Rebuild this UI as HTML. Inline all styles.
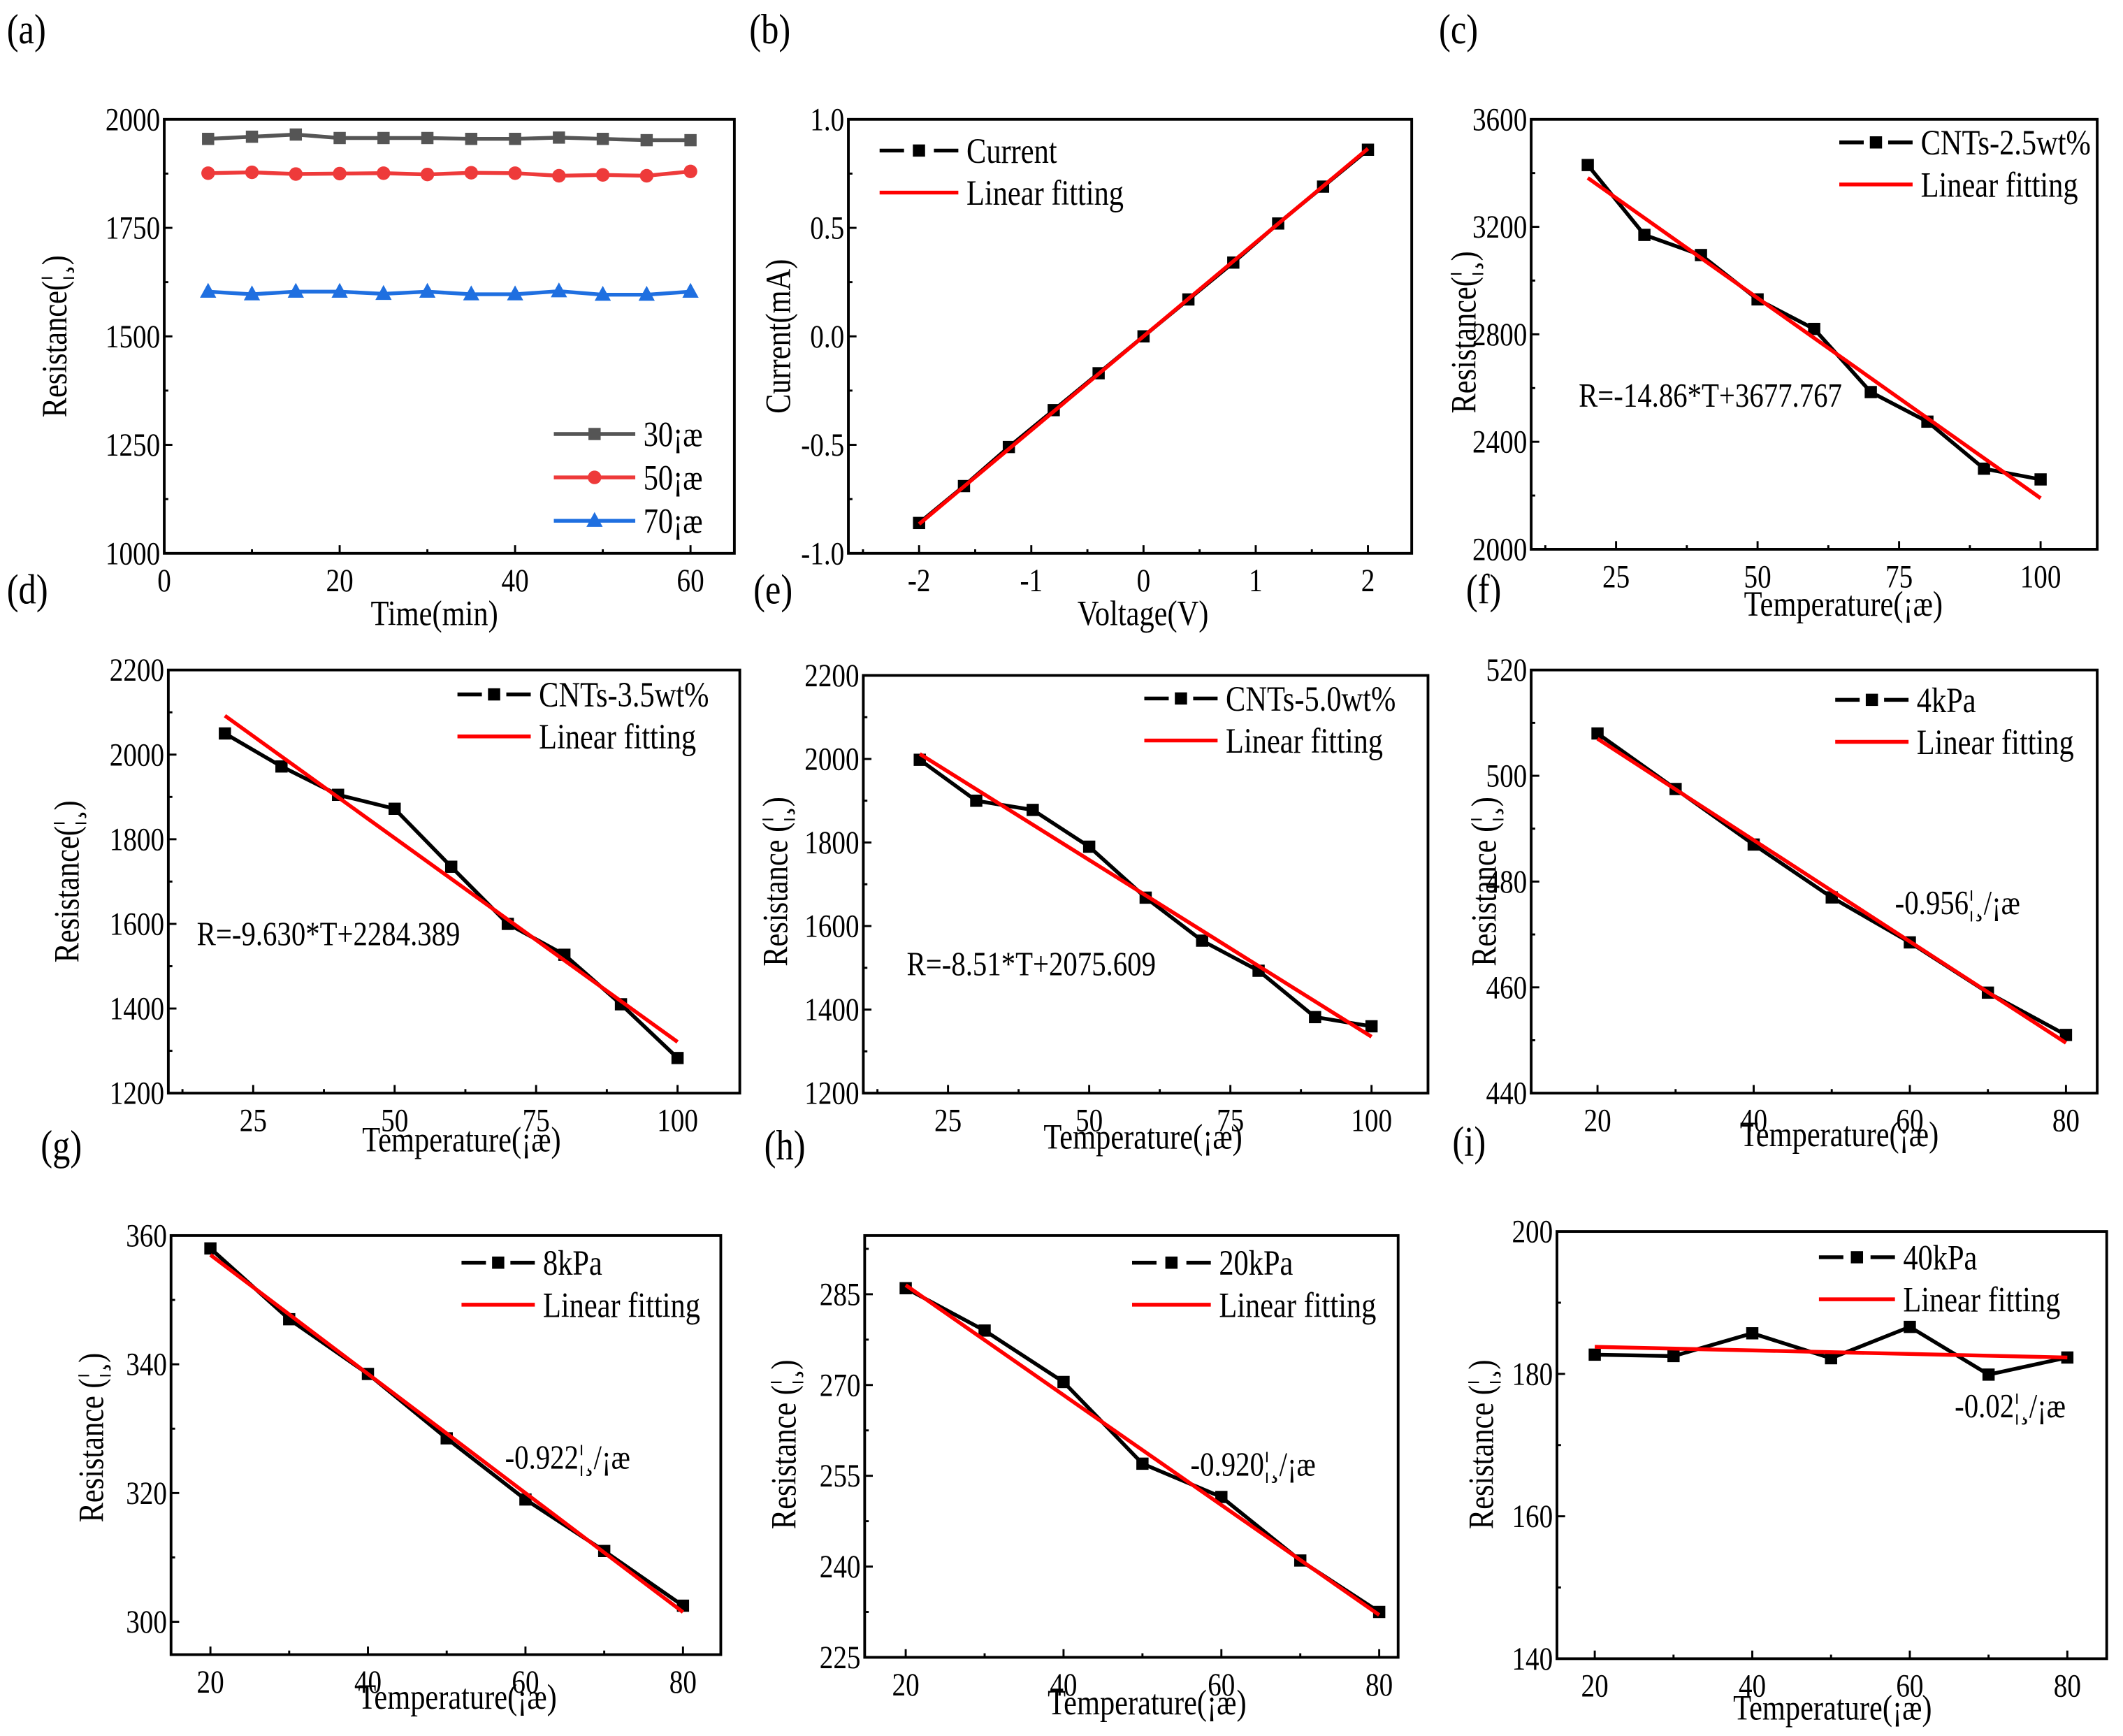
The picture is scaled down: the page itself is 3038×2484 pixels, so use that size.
<!DOCTYPE html>
<html><head><meta charset="utf-8"><style>
html,body{margin:0;padding:0;background:#fff;}
svg{display:block;}
svg text{font-family:"Liberation Serif","Times New Roman","DejaVu Serif",serif;}
</style></head><body>
<svg id="fig" width="3038" height="2484" viewBox="0 0 1564 1280" preserveAspectRatio="none" xmlns="http://www.w3.org/2000/svg"></svg>
<script>
// ---- data ----
const timeMin = [5,10,15,20,25,30,35,40,45,50,55,60];
const r30 = [1955,1960,1965,1957,1957,1957,1955,1955,1958,1955,1952,1952];
const r50 = [1876,1878,1874,1875,1876,1873,1877,1876,1870,1872,1870,1880];
const r70 = [1603,1597,1603,1603,1598,1603,1597,1597,1604,1596,1596,1603];
const voltage = [-2,-1.6,-1.2,-0.8,-0.4,0,0.4,0.8,1.2,1.6,2];
const current = [-0.86,-0.69,-0.51,-0.34,-0.17,0,0.17,0.34,0.52,0.69,0.86];
const fitB = [-0.865,0.865];
const tempC = [20,30,40,50,60,70,80,90,100];
const rC = [3430,3170,3095,2930,2820,2585,2475,2300,2260];
const fitC = [3382,2190];
const rD = [2050,1972,1905,1872,1735,1600,1527,1410,1283];
const fitD = [2092,1321];
const rE = [1998,1900,1878,1790,1668,1565,1493,1382,1360];
const fitE = [2012,1335];
const tempP = [20,30,40,50,60,70,80];
const rF = [508,497.5,487,477,468.5,459,451];
const fitF = [507,449.5];
const rG = [358,347,338.5,328.5,319,311,302.5];
const fitG = [357,301.5];
const rH = [286,279,270.5,257,251.5,241,232.5];
const fitH = [286.5,232];
const rI = [182.7,182.5,185.7,182.2,186.6,179.9,182.3];
const fitI = [183.8,182.3];
const ticksA_x=[0,20,40,60], ticksA_y=[1000,1250,1500,1750,2000];
const ticksB_x=[-2,-1,0,1,2], ticksB_y=[-1.0,-0.5,0.0,0.5,1.0];
const ticksT_x=[25,50,75,100], ticksP_x=[20,40,60,80];

const svg=document.getElementById('fig');
const NS='http://www.w3.org/2000/svg';
const FONT='Liberation Serif, Times New Roman, DejaVu Serif, serif';
const SQ=0.84;
function mk(tag,attrs,parent){const e=document.createElementNS(NS,tag);for(const k in attrs)e.setAttribute(k,attrs[k]);(parent||svg).appendChild(e);return e;}
function txt(s,x,y,size,anchor,parent,rot){
  const t=mk('text',{x:0,y:0,'font-size':size,'font-family':FONT,'text-anchor':anchor||'start',fill:'#000'},parent);
  t.setAttribute('transform','translate('+x+' '+y+')'+(rot?' rotate(-90)':'')+' scale('+SQ+' 1)');
  t.textContent=s;return t;}

function panel(p){
  const g=mk('g',{});
  
  
  const sx=v=>p.x0+(v-p.dx[0])/(p.dx[1]-p.dx[0])*(p.x1-p.x0);
  const sy=v=>p.y1-(v-p.dy[0])/(p.dy[1]-p.dy[0])*(p.y1-p.y0);
  const box=mk('rect',{x:p.x0,y:p.y0,width:p.x1-p.x0,height:p.y1-p.y0,fill:'none',stroke:'#000','stroke-width':2},g);
  
  
  const xstep=p.xt[1]-p.xt[0];
  for(let v=p.xt[0]-xstep/2; v<=p.dx[1]; v+=xstep/2){
    if(v<p.dx[0]) continue;
    const major=Math.abs(((v-p.xt[0])/xstep)-Math.round((v-p.xt[0])/xstep))<1e-6;
    mk('line',{x1:sx(v),x2:sx(v),y1:p.y1,y2:p.y1-(major?6:3),stroke:'#000','stroke-width':1.5},g);
  }
  p.xt.forEach(v=>{const t=txt(p.xfmt?p.xfmt(v):String(v),sx(v),p.y1+28,24,'middle',g);
    
    });
  const ystep=p.yt[1]-p.yt[0];
  for(let v=p.yt[0]; v<=p.dy[1]+1e-9; v+=ystep/2){
    if(v<p.dy[0]-1e-9) continue;
    const major=Math.abs(((v-p.yt[0])/ystep)-Math.round((v-p.yt[0])/ystep))<1e-6;
    mk('line',{x1:p.x0,x2:p.x0+(major?6:3),y1:sy(v),y2:sy(v),stroke:'#000','stroke-width':1.5},g);
  }
  p.yt.forEach(v=>{const t=txt(p.yfmt?p.yfmt(v):String(v),p.x0-3,sy(v)+8,24,'end',g);
    
    });
  p.series.forEach((s,si)=>{
    const pts=s.x.map((xv,i)=>sx(xv)+','+sy(s.y[i])).join(' ');
    const pl=mk('polyline',{points:pts,fill:'none',stroke:s.color,'stroke-width':2.8},g);
    
    
    s.x.forEach((xv,i)=>{
      const m=marker(s.marker,sx(xv),sy(s.y[i]),s.color,g);
      
      
    });
  });
  if(p.fit){
    const fl=mk('line',{x1:sx(p.fitX[0]),y1:sy(p.fit[0]),x2:sx(p.fitX[1]),y2:sy(p.fit[1]),stroke:'#f00','stroke-width':2.8},g);
    
    
  }
  p.legend.forEach((l,i)=>{
    const ly=p.lg[1]+i*p.lg[3];
    const lg=mk('g',{},g);
    
    
    if(l.dash){
      mk('line',{x1:p.lg[0],x2:p.lg[0]+18,y1:ly,y2:ly,stroke:l.color,'stroke-width':2.8},lg);
      mk('line',{x1:p.lg[0]+p.lg[2]-18,x2:p.lg[0]+p.lg[2],y1:ly,y2:ly,stroke:l.color,'stroke-width':2.8},lg);
    } else mk('line',{x1:p.lg[0],x2:p.lg[0]+p.lg[2],y1:ly,y2:ly,stroke:l.color,'stroke-width':2.8},lg);
    if(l.marker) marker(l.marker,p.lg[0]+p.lg[2]/2,ly,l.color,lg);
    txt(l.label,p.lg[0]+p.lg[2]+6,ly+9,26,'start',lg);
  });
  if(p.note){const t=txt(p.note[0],p.note[1],p.note[2],25,'start',g);
    
    }
  const xt=txt(p.xlabel[0],p.xlabel[1],p.xlabel[2],26,'middle',g);
  
  
  const yt=txt(p.ylabel[0],p.ylabel[1],p.ylabel[2],26,'middle',g,true);
  
  
  const pl=txt(p.tag[0],p.tag[1],p.tag[2],31,'start',g);
  
  
}
function marker(type,x,y,c,g){
  if(type==='circle') return mk('circle',{cx:x,cy:y,r:5,fill:c},g);
  if(type==='tri') return mk('polygon',{points:(x)+','+(y-6.5)+' '+(x-6)+','+(y+4.5)+' '+(x+6)+','+(y+4.5),fill:c},g);
  return mk('rect',{x:x-4.5,y:y-4.5,width:9,height:9,fill:c},g);
}
const OHM='Resistance(¦¸)', OHMS='Resistance (¦¸)', TEMP='Temperature(¡æ)';
const LF={label:'Linear fitting',color:'#f00'};
panel({id:'a',x0:121,x1:541,y0:88,y1:408,dx:[0,65],dy:[1000,2000],xt:ticksA_x,yt:ticksA_y,
  series:[{x:timeMin,y:r30,color:'#555',marker:'sq'},{x:timeMin,y:r50,color:'#ee3a3a',marker:'circle'},{x:timeMin,y:r70,color:'#1f6fe0',marker:'tri'}],
  legend:[{label:'30¡æ',color:'#555',marker:'sq'},{label:'50¡æ',color:'#ee3a3a',marker:'circle'},{label:'70¡æ',color:'#1f6fe0',marker:'tri'}],
  lg:[408,320,60,32],xlabel:['Time(min)',320,461],ylabel:[OHM,49,248],tag:['(a)',5,32]});
panel({id:'b',x0:625,x1:1040,y0:88,y1:408,dx:[-2.63,2.39],dy:[-1,1],xt:ticksB_x,yt:ticksB_y,yfmt:v=>v.toFixed(1),
  series:[{x:voltage,y:current,color:'#000',marker:'sq'}],fit:fitB,fitX:[-2,2],
  legend:[{label:'Current',color:'#000',marker:'sq',dash:1},LF],lg:[648,111,58,31],
  xlabel:['Voltage(V)',842,461],ylabel:['Current(mA)',582,248],tag:['(b)',552,32]});
panel({id:'c',x0:1128,x1:1545,y0:88,y1:405,dx:[10,110],dy:[2000,3600],xt:ticksT_x,yt:[2000,2400,2800,3200,3600],
  series:[{x:tempC,y:rC,color:'#000',marker:'sq'}],fit:fitC,fitX:[20,100],
  legend:[{label:'CNTs-2.5wt%',color:'#000',marker:'sq',dash:1},LF],lg:[1355,105,54,31],
  note:['R=-14.86*T+3677.767',1163,300],xlabel:[TEMP,1358,454],ylabel:[OHM,1087,245],tag:['(c)',1060,32]});
panel({id:'d',x0:124,x1:545,y0:494,y1:806,dx:[10,111],dy:[1200,2200],xt:ticksT_x,yt:[1200,1400,1600,1800,2000,2200],
  series:[{x:tempC,y:rD,color:'#000',marker:'sq'}],fit:fitD,fitX:[20,100],
  legend:[{label:'CNTs-3.5wt%',color:'#000',marker:'sq',dash:1},LF],lg:[337,512,54,31],
  note:['R=-9.630*T+2284.389',145,697],xlabel:[TEMP,340,849],ylabel:[OHM,58,650],tag:['(d)',5,445]});
panel({id:'e',x0:636,x1:1052,y0:498,y1:806,dx:[10,110],dy:[1200,2200],xt:ticksT_x,yt:[1200,1400,1600,1800,2000,2200],
  series:[{x:tempC,y:rE,color:'#000',marker:'sq'}],fit:fitE,fitX:[20,100],
  legend:[{label:'CNTs-5.0wt%',color:'#000',marker:'sq',dash:1},LF],lg:[843,515,54,31],
  note:['R=-8.51*T+2075.609',668,719],xlabel:[TEMP,842,847],ylabel:[OHMS,580,650],tag:['(e)',555,445]});
panel({id:'f',x0:1128,x1:1545,y0:494,y1:806,dx:[11.5,84],dy:[440,520],xt:ticksP_x,yt:[440,460,480,500,520],
  series:[{x:tempP,y:rF,color:'#000',marker:'sq'}],fit:fitF,fitX:[20,80],
  legend:[{label:'4kPa',color:'#000',marker:'sq',dash:1},LF],lg:[1352,516,54,31],
  note:['-0.956¦¸/¡æ',1396,674],xlabel:[TEMP,1355,845],ylabel:[OHMS,1102,650],tag:['(f)',1080,445]});
panel({id:'g',x0:126,x1:531,y0:911,y1:1220,dx:[15,84.8],dy:[294.9,360],xt:ticksP_x,yt:[300,320,340,360],
  series:[{x:tempP,y:rG,color:'#000',marker:'sq'}],fit:fitG,fitX:[20,80],
  legend:[{label:'8kPa',color:'#000',marker:'sq',dash:1},LF],lg:[340,931,54,31],
  note:['-0.922¦¸/¡æ',372,1083],xlabel:[TEMP,337,1260],ylabel:['Resistance (¦¸)',76,1060],tag:['(g)',30,855]});
panel({id:'h',x0:637,x1:1030,y0:911,y1:1222,dx:[14.8,82.4],dy:[225,294.7],xt:ticksP_x,yt:[225,240,255,270,285],
  series:[{x:tempP,y:rH,color:'#000',marker:'sq'}],fit:fitH,fitX:[20,80],
  legend:[{label:'20kPa',color:'#000',marker:'sq',dash:1},LF],lg:[834,931,58,31],
  note:['-0.920¦¸/¡æ',877,1088],xlabel:[TEMP,845,1264],ylabel:[OHMS,586,1065],tag:['(h)',563,855]});
panel({id:'i',x0:1147,x1:1552,y0:908,y1:1223,dx:[15.2,85],dy:[140,200],xt:ticksP_x,yt:[140,160,180,200],
  series:[{x:tempP,y:rI,color:'#000',marker:'sq'}],fit:fitI,fitX:[20,80],
  legend:[{label:'40kPa',color:'#000',marker:'sq',dash:1},LF],lg:[1340,927,56,31],
  note:['-0.02¦¸/¡æ',1440,1045],xlabel:[TEMP,1350,1268],ylabel:[OHMS,1100,1065],tag:['(i)',1070,852]});
</script>
</body></html>
